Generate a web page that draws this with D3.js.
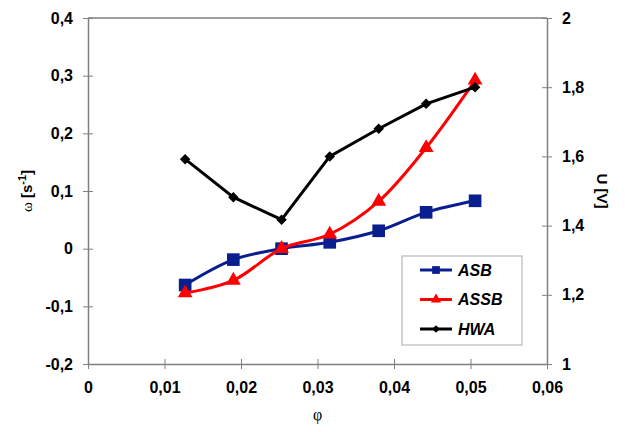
<!DOCTYPE html>
<html>
<head>
<meta charset="utf-8">
<script src="https://cdn.jsdelivr.net/npm/d3@7"></script>
<style>
  body { margin: 0; background: #fff; }
  svg text { font-family: "Liberation Sans", Arial, sans-serif; }
</style>
</head>
<body>
<div id="chart"></div>
<script>
// phi values (x axis), shared by all three series
const phi = [0.0127, 0.019, 0.0253, 0.0316, 0.038, 0.0442, 0.0506];
// omega [s^-1] on the left axis
const asb  = [-0.063, -0.019, 0.000, 0.011, 0.031, 0.063, 0.083];
const assb = [-0.077, -0.055, 0.000, 0.025, 0.082, 0.175, 0.292];
// U [V] on the right axis
const hwa  = [1.592, 1.482, 1.417, 1.600, 1.680, 1.752, 1.800];

const xTicks = [0, 0.01, 0.02, 0.03, 0.04, 0.05, 0.06];
const yLeftTicks = [-0.2, -0.1, 0, 0.1, 0.2, 0.3, 0.4];
const yRightTicks = [1, 1.2, 1.4, 1.6, 1.8, 2];

const W = 625, H = 432;
const plot = { left: 88, right: 547, top: 18, bottom: 364 };

const loc = d3.formatLocale({ decimal: ",", thousands: ".", grouping: [3], currency: ["", ""], minus: "-" });
const fmt2 = loc.format(".2~f");
const fmt1 = loc.format(".1~f");

const svg = d3.select('#chart').append('svg').attr('width', W).attr('height', H);

const x = d3.scaleLinear().domain([0, 0.06]).range([plot.left, plot.right]);
const yL = d3.scaleLinear().domain([-0.2, 0.4]).range([plot.bottom, plot.top]);
const yR = d3.scaleLinear().domain([1, 2]).range([plot.bottom, plot.top]);

const axisColor = '#808080';

// plot frame (top edge)
svg.append('line')
  .attr('x1', plot.left).attr('x2', plot.right)
  .attr('y1', plot.top).attr('y2', plot.top)
  .attr('stroke', axisColor).attr('stroke-width', 1.5);

function styleAxis(g) {
  g.select('.domain').attr('stroke', axisColor).attr('stroke-width', 1.5);
  g.selectAll('.tick line').attr('stroke', axisColor).attr('stroke-width', 1);
  g.selectAll('.tick text')
    .attr('fill', '#000')
    .style('font-size', '16px').style('font-weight', 'bold')
    .style('font-family', '"Liberation Sans", Arial, sans-serif');
}

const xAxisG = svg.append('g').attr('transform', `translate(0,${plot.bottom})`)
  .call(d3.axisBottom(x).tickValues(xTicks).tickFormat(d => d === 0 ? '0' : fmt2(d))
    .tickSizeInner(5).tickSizeOuter(0).tickPadding(13));
styleAxis(xAxisG);
xAxisG.selectAll('.tick line').attr('y1', -5).attr('y2', 5);

const yLG = svg.append('g').attr('transform', `translate(${plot.left},0)`)
  .call(d3.axisLeft(yL).tickValues(yLeftTicks).tickFormat(d => Math.abs(d) < 1e-9 ? '0' : fmt1(d))
    .tickSizeInner(5).tickSizeOuter(0).tickPadding(10));
styleAxis(yLG);
yLG.selectAll('.tick line').attr('x1', -5).attr('x2', 5);

const yRG = svg.append('g').attr('transform', `translate(${plot.right},0)`)
  .call(d3.axisRight(yR).tickValues(yRightTicks).tickFormat(d => fmt1(d))
    .tickSizeInner(5).tickSizeOuter(0).tickPadding(10));
styleAxis(yRG);
yRG.selectAll('.tick line').attr('x1', -5).attr('x2', 5);

// axis titles
const omegaTitle = svg.append('text')
  .attr('transform', `translate(32,${(plot.top + plot.bottom) / 2}) rotate(-90)`)
  .attr('text-anchor', 'middle').attr('fill', '#000').style('font-size', '15px');
omegaTitle.append('tspan').text('ω').style('font-family', '"Liberation Serif", "Times New Roman", serif');
omegaTitle.append('tspan').text(' [s').style('font-weight', 'bold');
omegaTitle.append('tspan').text('-1').attr('dy', -6).style('font-size', '11px').style('font-weight', 'bold');
omegaTitle.append('tspan').text(']').attr('dy', 6).style('font-weight', 'bold');

svg.append('text')
  .attr('transform', `translate(597,${(plot.top + plot.bottom) / 2}) rotate(90)`)
  .attr('text-anchor', 'middle').attr('fill', '#000')
  .style('font-size', '15px').style('font-weight', 'bold')
  .text('U [V]');

svg.append('text')
  .attr('x', (plot.left + plot.right) / 2).attr('y', 420)
  .attr('text-anchor', 'middle').attr('fill', '#000')
  .style('font-size', '16px').style('font-family', '"Liberation Serif", "Times New Roman", serif')
  .text('φ');

// series (ASB and ASSB smoothed, HWA straight segments)
const series = [
  { name: 'ASB', values: asb, y: yL, color: '#0a1f8f', symbol: d3.symbolSquare, size: 160, rot: 0, lsize: 60, curve: d3.curveCatmullRom.alpha(0.5) },
  { name: 'ASSB', values: assb, y: yL, color: '#ff0000', symbol: d3.symbolTriangle, size: 95, rot: 0, lsize: 45, curve: d3.curveCatmullRom.alpha(0.5) },
  { name: 'HWA', values: hwa, y: yR, color: '#000000', symbol: d3.symbolSquare, size: 55, rot: 45, lsize: 30, curve: d3.curveLinear }
];

series.forEach(s => {
  const pts = phi.map((p, i) => [p, s.values[i]]);
  const line = d3.line().x(d => x(d[0])).y(d => s.y(d[1])).curve(s.curve);
  svg.append('path').datum(pts)
    .attr('d', line).attr('fill', 'none')
    .attr('stroke', s.color).attr('stroke-width', 3);
  svg.selectAll(null).data(pts).enter().append('path')
    .attr('d', d3.symbol().type(s.symbol).size(s.size))
    .attr('transform', d => `translate(${x(d[0])},${s.y(d[1])}) rotate(${s.rot})`)
    .attr('fill', s.color);
});

// legend
const lg = svg.append('g');
lg.append('rect')
  .attr('x', 402).attr('y', 256).attr('width', 120).attr('height', 89)
  .attr('fill', '#fff').attr('stroke', '#aaa').attr('stroke-width', 1);
series.forEach((s, i) => {
  const cy = 270 + i * 29.5;
  lg.append('line').attr('x1', 420).attr('x2', 452).attr('y1', cy).attr('y2', cy)
    .attr('stroke', s.color).attr('stroke-width', 3);
  lg.append('path')
    .attr('d', d3.symbol().type(s.symbol).size(s.lsize))
    .attr('transform', `translate(436,${cy}) rotate(${s.rot})`)
    .attr('fill', s.color);
  lg.append('text').attr('x', 458).attr('y', cy + 5.5)
    .attr('fill', '#000')
    .style('font-size', '16px').style('font-weight', 'bold').style('font-style', 'italic')
    .text(s.name);
});
</script>
</body>
</html>
